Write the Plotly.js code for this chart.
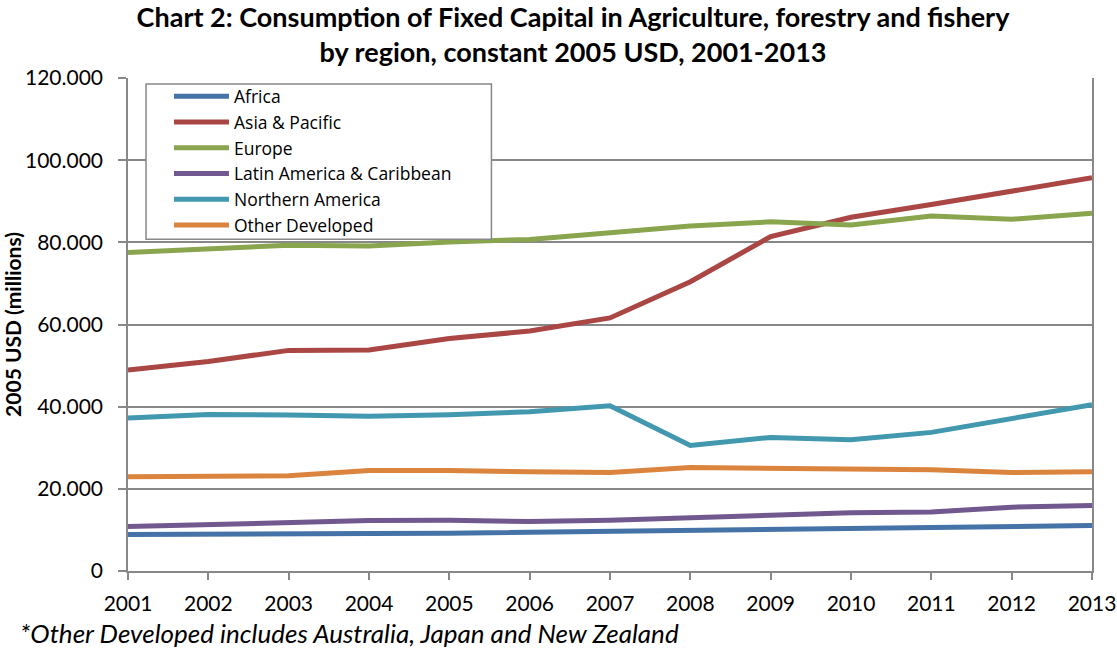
<!DOCTYPE html>
<html>
<head>
<meta charset="utf-8">
<script src="https://cdn.plot.ly/plotly-3.0.1.min.js"></script>
<style>html,body{margin:0;padding:0;background:#fff;}#chart{width:1117px;height:650px;}</style>
</head>
<body>
<div id="chart"></div>
<script>
var years = [2001,2002,2003,2004,2005,2006,2007,2008,2009,2010,2011,2012,2013];
var africa = [8860,8860,8940,9100,9180,9430,9590,9920,10240,10400,10650,10810,11060];
var asiaPacific = [48900,51000,53700,53800,56600,58400,61600,70400,81400,86100,89200,92300,95700];
var europe = [77500,78300,79300,79100,80100,80700,82200,84000,85000,84200,86400,85600,87100];
var latinAmerica = [10810,11380,11950,12280,12360,12030,12360,13000,13410,14150,14390,15530,15930];
var northernAmerica = [37240,38120,37970,37640,38050,38780,40240,30570,32520,31950,33740,37000,40490];
var otherDeveloped = [22930,22930,23170,24470,24470,24150,23980,25200,25040,24960,24630,23980,24150];
var seriesNames = ['Africa','Asia & Pacific','Europe','Latin America & Caribbean','Northern America','Other Developed'];
var yTicks = [0,20000,40000,60000,80000,100000,120000];

var colors = ['#4572A7','#AA4643','#89A54E','#71588F','#4198AF','#DB843D'];
var data = [africa, asiaPacific, europe, latinAmerica, northernAmerica, otherDeveloped];
var font = 'Lato, "Open Sans", sans-serif';

var traces = data.map(function(vals, i){
  return {x: years, y: vals, type:'scatter', mode:'lines', name: seriesNames[i],
          line:{color: colors[i], width:5}, hoverinfo:'x+y+name'};
});

var layout = {
  width:1117, height:650,
  margin:{l:128, r:25, t:78, b:79},
  paper_bgcolor:'#fff', plot_bgcolor:'#fff',
  separators: ',.',
  font:{family:font, size:21, color:'#000'},
  title:{text:'<b>Chart 2: Consumption of Fixed Capital in Agriculture, forestry and fishery<br>by region, constant 2005 USD, 2001-2013</b>',
         font:{family:font, size:27, color:'#000'}, x:0.513, xanchor:'center', y:0.959, yanchor:'middle'},
  xaxis:{range:[2001,2013], tickmode:'array', tickvals:years, ticktext:years.map(String),
         showgrid:false, zeroline:false, showline:true, linecolor:'#888', linewidth:1.5,
         ticks:'outside', ticklen:7, tickcolor:'#888', tickwidth:1.5, ticklabelstandoff:6,
         tickfont:{family:font, size:21}, mirror:false},
  yaxis:{range:[0,120000], tickmode:'array', tickvals:yTicks, tickformat:',d',
         showgrid:true, gridcolor:'#888', gridwidth:1.5, zeroline:false,
         showline:true, linecolor:'#888', linewidth:1.5, mirror:true,
         ticks:'outside', ticklen:8, tickcolor:'#888', tickwidth:1.5, ticklabelstandoff:11,
         tickfont:{family:font, size:21},
         title:{text:'<b>2005 USD (millions)</b>', font:{family:font, size:21}, standoff:1}},
  legend:{x:0.0425, y:0.999, xanchor:'left', yanchor:'top', bgcolor:'rgba(0,0,0,0)',
          borderwidth:0, font:{family:'"Open Sans", Lato, sans-serif', size:17.5}, itemwidth:55, traceorder:'normal'},
  shapes:[{type:'rect', xref:'paper', yref:'paper', x0:0.0187, x1:0.377, y0:0.673, y1:0.988,
           fillcolor:'#fff', line:{color:'#888', width:1.5}, layer:'above'}],
  annotations:[{text:'<i>*Other Developed includes Australia, Japan and New Zealand</i>',
                xref:'paper', yref:'paper', x:-0.114, y:-0.1258, xanchor:'left', yanchor:'middle',
                showarrow:false, font:{family:font, size:26, color:'#000'}}],
  showlegend:true
};
Plotly.newPlot('chart', traces, layout, {displayModeBar:false});
</script>
</body>
</html>
